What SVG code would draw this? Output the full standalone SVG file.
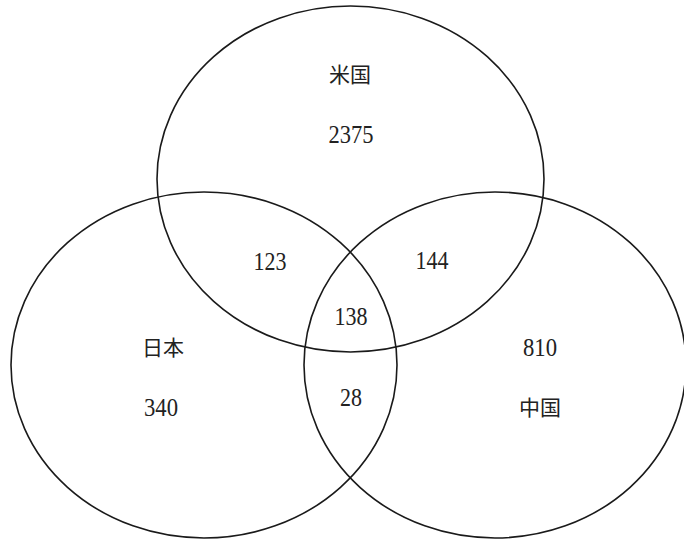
<svg xmlns="http://www.w3.org/2000/svg" width="684" height="541" viewBox="0 0 684 541">
<style>
.set{fill:none;stroke:#1a1a1a;stroke-width:1.6}
.num{font-family:'Liberation Serif','DejaVu Serif',serif;font-size:26px;fill:#222;text-anchor:middle}
.lbl{font-family:'Noto Sans CJK JP',sans-serif;font-size:21px;fill:#222;text-anchor:middle}
</style>
<rect width="684" height="541" fill="#fff"/>
<g id="usa">
<ellipse class="set" cx="350.5" cy="179" rx="193.5" ry="173"/>
<text class="lbl" x="350" y="82">米国</text>
<text class="num" x="351" y="143" textLength="45" lengthAdjust="spacingAndGlyphs">2375</text>
</g>
<g id="japan">
<ellipse class="set" cx="204" cy="365" rx="193" ry="173"/>
<text class="lbl" x="163" y="355">日本</text>
<text class="num" x="161" y="416" textLength="34" lengthAdjust="spacingAndGlyphs">340</text>
</g>
<g id="china">
<ellipse class="set" cx="495" cy="365" rx="191" ry="173"/>
<text class="num" x="540" y="356" textLength="34" lengthAdjust="spacingAndGlyphs">810</text>
<text class="lbl" x="540" y="415">中国</text>
</g>
<g id="overlaps">
<text class="num" x="270" y="270" textLength="33" lengthAdjust="spacingAndGlyphs">123</text>
<text class="num" x="432" y="269" textLength="33" lengthAdjust="spacingAndGlyphs">144</text>
<text class="num" x="351" y="325" textLength="33" lengthAdjust="spacingAndGlyphs">138</text>
<text class="num" x="351" y="406" textLength="22" lengthAdjust="spacingAndGlyphs">28</text>
</g>
</svg>
